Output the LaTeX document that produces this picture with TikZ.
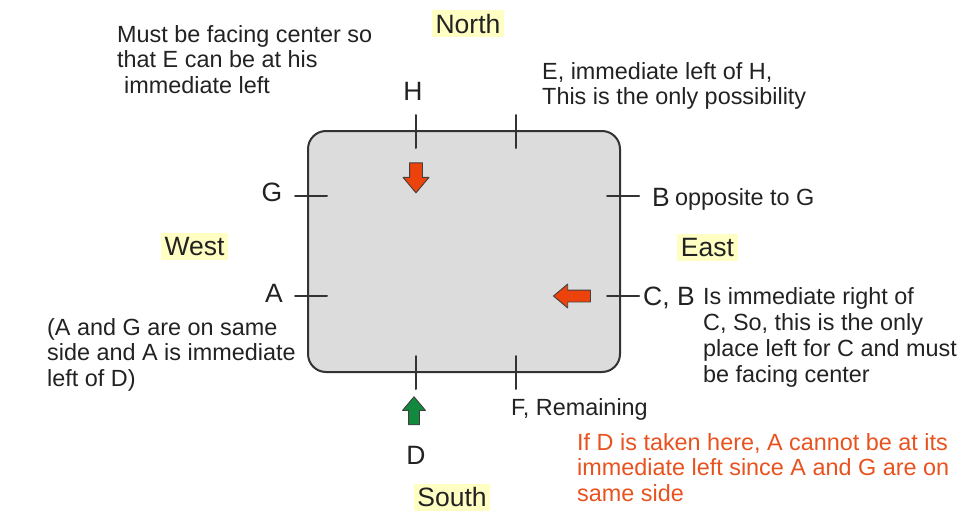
\documentclass[tikz,border=0pt]{standalone}
\usepackage{fontspec}
\setmainfont{Liberation Sans}
\usetikzlibrary{shapes.arrows}

\definecolor{boxgray}{RGB}{220,220,220}
\definecolor{edgegray}{RGB}{51,51,51}
\definecolor{hiyellow}{RGB}{255,255,196}
\definecolor{arrowred}{RGB}{236,66,12}
\definecolor{arrowgreen}{RGB}{18,138,62}
\definecolor{notered}{RGB}{232,82,30}
\definecolor{inkgray}{RGB}{34,34,34}

\tikzset{
  seatmark/.style={edgegray,line width=2pt},
  seatname/.style={inkgray,font=\fontsize{26.5}{30}\selectfont,inner sep=0pt},
  direction/.style={inkgray,fill=hiyellow,font=\fontsize{26.5}{30}\selectfont,
    inner xsep=3.5pt,inner ysep=4pt,text height=19pt,text depth=0pt},
  note/.style={inkgray,font=\fontsize{23.4}{25.5}\selectfont,inner sep=0pt,align=left},
  facing/.style={single arrow,draw=black!75,line width=0.9pt,inner xsep=0pt,
    single arrow head extend=6.5pt,single arrow tip angle=80},
}

\begin{document}
\begin{tikzpicture}[x=1pt,y=-1pt,line cap=round,line join=round]
\useasboundingbox (0,0) rectangle (979,522);
\draw[edgegray,line width=2pt,fill=boxgray,rounded corners=18pt] (308,131) rectangle (620,372);
\coordinate (n1) at (416,131);
\coordinate (n2) at (516,131);
\coordinate (s1) at (416,372);
\coordinate (s2) at (516,372);
\coordinate (w1) at (308,196);
\coordinate (w2) at (308,296);
\coordinate (e1) at (620,196);
\coordinate (e2) at (620,296);
\foreach \s in {n1,n2,s1,s2}
  \draw[seatmark] ([yshift=16pt]\s) -- ([yshift=-17pt]\s);
\foreach \s in {w1,w2,e1,e2}
  \draw[seatmark] ([xshift=-13pt]\s) -- ([xshift=19pt]\s);

\node[facing,fill=arrowred,rotate=-90,minimum height=30pt,inner ysep=6pt] (faceH) at (416,174) {};
\node[facing,fill=arrowred,rotate=180,minimum height=37pt,inner ysep=5.5pt,
  single arrow head extend=6pt] (faceC) at (575.5,296) {};
\node[facing,fill=arrowgreen,rotate=90,minimum height=28pt,inner ysep=5pt,
  single arrow head extend=6pt] (faceD) at (414,414) {};

\node[note,anchor=north west] (noteH) at (117,25) {Must be facing center so\\that E can be at his\\\hspace*{7pt}immediate left};
\node[direction] (north) at (468,23.5) {North};
\node[seatname] (H) at (413,91) {H};
\node[note,anchor=north west] (noteE) at (542,62) {E, immediate left of H,\\This is the only possibility};
\node[seatname] (G) at (272,192) {G};
\node[seatname,anchor=base west] (B) at (652,206) {B};
\node[note,anchor=base west] (noteB) at (675,205) {opposite to G};
\node[direction] (west) at (194.5,246) {West};
\node[direction] (east) at (707.5,247) {East};
\node[seatname] (A) at (274,293) {A};
\node[seatname,anchor=base west] (CB) at (643,305) {C, B};
\node[note,anchor=north west,font=\fontsize{23.4}{26}\selectfont] (noteC) at (703,287) {Is immediate right of\\C, So, this is the only\\place left for C and must\\be facing center};
\node[note,anchor=north west] (noteA) at (47,318) {(A and G are on same\\side and A is immediate\\left of D)};
\node[note,anchor=base west] (F) at (511,415) {F, Remaining};
\node[seatname] (D) at (416,455) {D};
\node[note,anchor=north west,text=notered] (noteD) at (577,433) {If D is taken here, A cannot be at its\\immediate left since A and G are on\\same side};
\node[direction] (south) at (452,497) {South};
\end{tikzpicture}
\end{document}
